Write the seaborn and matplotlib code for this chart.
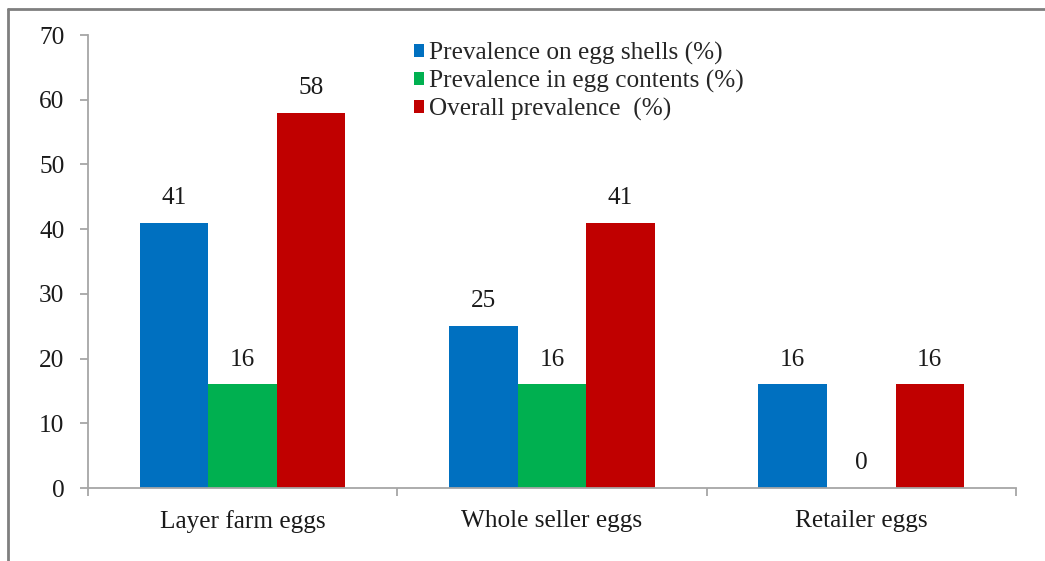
import matplotlib
matplotlib.use("Agg")
import matplotlib.pyplot as plt
from matplotlib.lines import Line2D
from matplotlib.patches import Patch
from matplotlib.ticker import MultipleLocator, FixedLocator
import seaborn as sns
import pandas as pd

# Egg sources and prevalence values (%)
sources = ["Layer farm eggs", "Whole seller eggs", "Retailer eggs"]
series_names = [
    "Prevalence on egg shells (%)",
    "Prevalence in egg contents (%)",
    "Overall prevalence  (%)",
]
shells = [41, 25, 16]
contents = [16, 16, 0]
overall = [58, 41, 16]
colors = ["#0070C0", "#00B050", "#C00000"]

df = pd.DataFrame({
    "Source": sources * 3,
    "Measure": [series_names[0]] * 3 + [series_names[1]] * 3 + [series_names[2]] * 3,
    "Value": shells + contents + overall,
})

sns.set_theme(style="white")
plt.rcParams["font.family"] = ["Liberation Serif", "DejaVu Serif"]
FS = 18.2

fig = plt.figure(figsize=(10.45, 5.61), dpi=100)
ax = fig.add_axes([0.0842, 0.1301, 0.888, 0.8075])

sns.barplot(
    data=df, x="Source", y="Value", hue="Measure",
    order=sources, hue_order=series_names,
    palette=colors, saturation=1, width=0.665, gap=0,
    edgecolor="none", linewidth=0, ax=ax, legend=False,
)

for cont in ax.containers:
    ax.bar_label(cont, fmt="%d", padding=10, fontsize=FS, color="#1a1a1a")

ax.set_xlim(-0.5, 2.5)
ax.set_ylim(0, 70)
ax.yaxis.set_major_locator(MultipleLocator(10))
ax.set_xlabel("")
ax.set_ylabel("")

axis_gray = "#a6a6a6"
for side in ["top", "right"]:
    ax.spines[side].set_visible(False)
for side in ["left", "bottom"]:
    ax.spines[side].set_color(axis_gray)
    ax.spines[side].set_linewidth(1.3)

ax.tick_params(axis="y", which="major", direction="out", length=6, width=1.3,
               color=axis_gray, left=True, labelsize=FS, pad=11, labelcolor="#1a1a1a")
ax.tick_params(axis="x", which="major", length=0, labelsize=FS, pad=16, labelcolor="#1a1a1a")
ax.xaxis.set_minor_locator(FixedLocator([-0.5, 0.5, 1.5, 2.5]))
ax.tick_params(axis="x", which="minor", direction="out", length=6, width=1.3,
               color=axis_gray, bottom=True)

handles = [Patch(facecolor=c, edgecolor="none") for c in colors]
ax.legend(
    handles, series_names, loc="upper left", bbox_to_anchor=(0.351, 0.985),
    frameon=False, fontsize=FS, handlelength=0.42, handleheight=0.42,
    handletextpad=0.2, labelspacing=0.2, borderaxespad=0, borderpad=0,
)

# Outer frame lines along the top and left edges of the figure
frame_gray = "#7f7f7f"
fig.add_artist(Line2D([0.0077, 1.0], [0.984, 0.984], transform=fig.transFigure,
                      color=frame_gray, linewidth=2))
fig.add_artist(Line2D([0.0077, 0.0077], [0.0, 0.984], transform=fig.transFigure,
                      color=frame_gray, linewidth=2))

fig.savefig("out.png", dpi=100)
